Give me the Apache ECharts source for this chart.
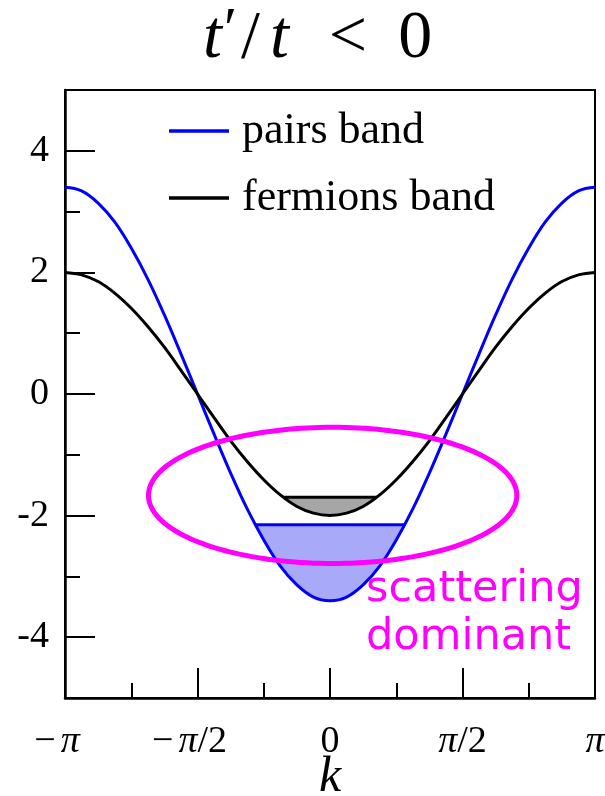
<!DOCTYPE html>
<html>
<head>
<meta charset="utf-8">
<script src="https://cdn.jsdelivr.net/npm/echarts@6/dist/echarts.min.js"></script>
<style>
  html, body { margin: 0; padding: 0; background: #ffffff; }
  #chart { width: 605px; height: 796px; }
</style>
</head>
<body>
<div id="chart"></div>
<script>
// Momentum grid, in units of pi
const kOverPi = [-1, -0.9375, -0.875, -0.8125, -0.75, -0.6875, -0.625, -0.5625, -0.5,
  -0.4375, -0.375, -0.3125, -0.25, -0.1875, -0.125, -0.0625, 0,
  0.0625, 0.125, 0.1875, 0.25, 0.3125, 0.375, 0.4375, 0.5,
  0.5625, 0.625, 0.6875, 0.75, 0.8125, 0.875, 0.9375, 1];

// Pair (bound-state) dispersion
const pairsBand = [3.40, 3.34, 3.14, 2.83, 2.40, 1.89, 1.30, 0.66, 0.00,
  -0.66, -1.30, -1.89, -2.40, -2.83, -3.14, -3.34, -3.40,
  -3.34, -3.14, -2.83, -2.40, -1.89, -1.30, -0.66, 0.00,
  0.66, 1.30, 1.89, 2.40, 2.83, 3.14, 3.34, 3.40];

// Single-fermion dispersion
const fermionsBand = [2.00, 1.96, 1.85, 1.66, 1.41, 1.11, 0.77, 0.39, 0.00,
  -0.39, -0.77, -1.11, -1.41, -1.66, -1.85, -1.96, -2.00,
  -1.96, -1.85, -1.66, -1.41, -1.11, -0.77, -0.39, 0.00,
  0.39, 0.77, 1.11, 1.41, 1.66, 1.85, 1.96, 2.00];

// Occupied part of the pairs band (filled up to pairsLevel)
const pairsLevel = -2.15;
const pairsFillK = [-0.282, -0.25, -0.1875, -0.125, -0.0625, 0, 0.0625, 0.125, 0.1875, 0.25, 0.282];
const pairsFillE = [-2.15, -2.40, -2.83, -3.14, -3.34, -3.40, -3.34, -3.14, -2.83, -2.40, -2.15];

// Occupied part of the fermions band (filled up to fermionsLevel)
const fermionsLevel = -1.70;
const fermionsFillK = [-0.177, -0.125, -0.0625, 0, 0.0625, 0.125, 0.177];
const fermionsFillE = [-1.70, -1.85, -1.96, -2.00, -1.96, -1.85, -1.70];

// Axis ticks and labels
const xMajorTicks = [-0.5, 0, 0.5];
const xMinorTicks = [-0.75, -0.25, 0.25, 0.75];
const xLabelValues = [-1, -0.5, 0, 0.5, 1];
const xTickLabels = ['{m|−}{i|π}{g|}', '{m|−}{i|π}{n|/2}{g|}', '{n|0}', '{i|π}{n|/2}', '{i|π}'];
const yMajorTicks = [-4, -2, 0, 2, 4];
const yMinorTicks = [-3, -1, 1, 3];
const yTickLabels = ['-4', '-2', '0', '2', '4'];

// Highlighted region (centre and half-axes in data units)
const regionCenter = [0.01, -1.668];
const regionHalfAxes = [0.695, 1.12];
const regionLabel = ['scattering', 'dominant'];

const SERIF = 'Liberation Serif, Times New Roman, serif';
const zip = (xs, ys) => xs.map((x, i) => [x, ys[i]]);

const chart = echarts.init(document.getElementById('chart'), null, { renderer: 'canvas' });

const baseX = {
  type: 'value', min: -1, max: 1, position: 'bottom',
  splitLine: { show: false }
};
const baseY = {
  type: 'value', min: -5, max: 5, position: 'left',
  splitLine: { show: false }
};
const rs = (extra) => Object.assign({ fontFamily: SERIF, fontWeight: 'normal', color: '#000' }, extra);

const option = {
  animation: false,
  backgroundColor: '#ffffff',
  title: {
    text: '{i|t}{p|′}{l|/}{i|t}{s|<}{n|0}',
    left: 203, top: 2, padding: 0,
    textStyle: {
      fontWeight: 'normal',
      rich: {
        i: rs({ fontStyle: 'italic', fontSize: 68 }),
        p: rs({ fontSize: 60, padding: [0, 2, 14, 2] }),
        l: rs({ fontSize: 68, padding: [0, 10, 0, 2] }),
        n: rs({ fontSize: 68 }),
        s: rs({ fontSize: 68, padding: [0, 31, 0, 40] })
      }
    }
  },
  grid: {
    left: 65, right: 10, top: 90, bottom: 98,
    outerBoundsMode: 'none', containLabel: false,
    show: true, borderColor: '#000', borderWidth: 2, backgroundColor: 'transparent'
  },
  legend: [
    {
      data: ['pairs band'], left: 169, top: 101, padding: 0,
      icon: 'rect', itemWidth: 60, itemHeight: 3.5,
      textStyle: { fontFamily: SERIF, fontSize: 44, lineHeight: 44, color: '#000', padding: [16, 0, 0, 8] }
    },
    {
      data: ['fermions band'], left: 169, top: 168, padding: 0,
      icon: 'rect', itemWidth: 60, itemHeight: 3.5,
      textStyle: { fontFamily: SERIF, fontSize: 44, lineHeight: 44, color: '#000', padding: [16, 0, 0, 8] }
    }
  ],
  xAxis: [
    Object.assign({}, baseX, {
      axisLine: { show: true, onZero: false, lineStyle: { color: '#000', width: 2.5 } },
      axisTick: { show: true, inside: true, length: 30, customValues: xMajorTicks, lineStyle: { color: '#000', width: 2 } },
      axisLabel: {
        show: true, customValues: xLabelValues, margin: 25,
        formatter: v => xTickLabels[xLabelValues.indexOf(Math.round(v * 100) / 100)] || '',
        rich: {
          m: rs({ fontSize: 38, padding: [0, 5, 0, 0] }),
          i: rs({ fontStyle: 'italic', fontSize: 38 }),
          n: rs({ fontSize: 38 }),
          g: rs({ fontSize: 38, width: 16 })
        }
      },
      name: 'k', nameLocation: 'middle', nameGap: 55, nameMoveOverlap: false,
      nameTextStyle: { fontFamily: SERIF, fontStyle: 'italic', fontSize: 50, color: '#000', verticalAlign: 'top' }
    }),
    Object.assign({}, baseX, {
      axisLine: { show: false, onZero: false },
      axisTick: { show: true, inside: true, length: 15, customValues: xMinorTicks, lineStyle: { color: '#000', width: 2 } },
      axisLabel: { show: false }
    })
  ],
  yAxis: [
    Object.assign({}, baseY, {
      axisLine: { show: true, onZero: false, lineStyle: { color: '#000', width: 2.5 } },
      axisTick: { show: true, inside: true, length: 30, customValues: yMajorTicks, lineStyle: { color: '#000', width: 2 } },
      axisLabel: {
        show: true, customValues: yMajorTicks, margin: 16,
        formatter: v => yTickLabels[yMajorTicks.indexOf(Math.round(v))] || '',
        fontFamily: SERIF, fontSize: 38, color: '#000'
      }
    }),
    Object.assign({}, baseY, {
      axisLine: { show: false, onZero: false },
      axisTick: { show: true, inside: true, length: 15, customValues: yMinorTicks, lineStyle: { color: '#000', width: 2 } },
      axisLabel: { show: false }
    })
  ],
  series: [
    {
      name: 'pairs fill', type: 'line', data: zip(pairsFillK, pairsFillE),
      smooth: 0.4, symbol: 'none', lineStyle: { width: 0 },
      areaStyle: { color: '#a9a9f9', opacity: 1, origin: pairsLevel }, z: 1
    },
    {
      name: 'fermions fill', type: 'line', data: zip(fermionsFillK, fermionsFillE),
      smooth: 0.4, symbol: 'none', lineStyle: { width: 0 },
      areaStyle: { color: '#a6a6a6', opacity: 1, origin: fermionsLevel }, z: 1
    },
    {
      name: 'pairs band', type: 'line', data: zip(kOverPi, pairsBand),
      smooth: 0.4, symbol: 'none', color: '#0000ff',
      lineStyle: { color: '#0000ff', width: 3 }, z: 3
    },
    {
      name: 'fermions band', type: 'line', data: zip(kOverPi, fermionsBand),
      smooth: 0.4, symbol: 'none', color: '#000000',
      lineStyle: { color: '#000000', width: 3 }, z: 3
    },
    {
      name: 'pairs level', type: 'line',
      data: [[pairsFillK[0], pairsLevel], [pairsFillK[pairsFillK.length - 1], pairsLevel]],
      symbol: 'none', lineStyle: { color: '#0000ff', width: 3 }, z: 3
    },
    {
      name: 'fermions level', type: 'line',
      data: [[fermionsFillK[0], fermionsLevel], [fermionsFillK[fermionsFillK.length - 1], fermionsLevel]],
      symbol: 'none', lineStyle: { color: '#000000', width: 3 }, z: 3
    }
  ]
};

chart.setOption(option);

// Outline of the highlighted region, placed from data coordinates
const finder = { xAxisIndex: 0, yAxisIndex: 0 };
const c = chart.convertToPixel(finder, regionCenter);
const ex = chart.convertToPixel(finder, [regionCenter[0] + regionHalfAxes[0], regionCenter[1]]);
const ey = chart.convertToPixel(finder, [regionCenter[0], regionCenter[1] + regionHalfAxes[1]]);
const rx = Math.abs(ex[0] - c[0]);
const ry = Math.abs(c[1] - ey[1]);
const outline = [];
for (let i = 0; i < 180; i++) {
  const a = (i / 180) * Math.PI * 2;
  outline.push([c[0] + rx * Math.cos(a), c[1] + ry * Math.sin(a)]);
}

chart.setOption({
  graphic: [
    {
      type: 'polygon', z: 10,
      shape: { points: outline },
      style: { fill: 'none', stroke: '#ff00ff', lineWidth: 5 }
    },
    {
      type: 'text', z: 10, left: 366, top: 566,
      style: {
        text: regionLabel.join('\n'),
        fontFamily: 'DejaVu Sans, sans-serif', fontSize: 43, lineHeight: 48,
        fill: '#ff00ff'
      }
    }
  ]
});
</script>
</body>
</html>
